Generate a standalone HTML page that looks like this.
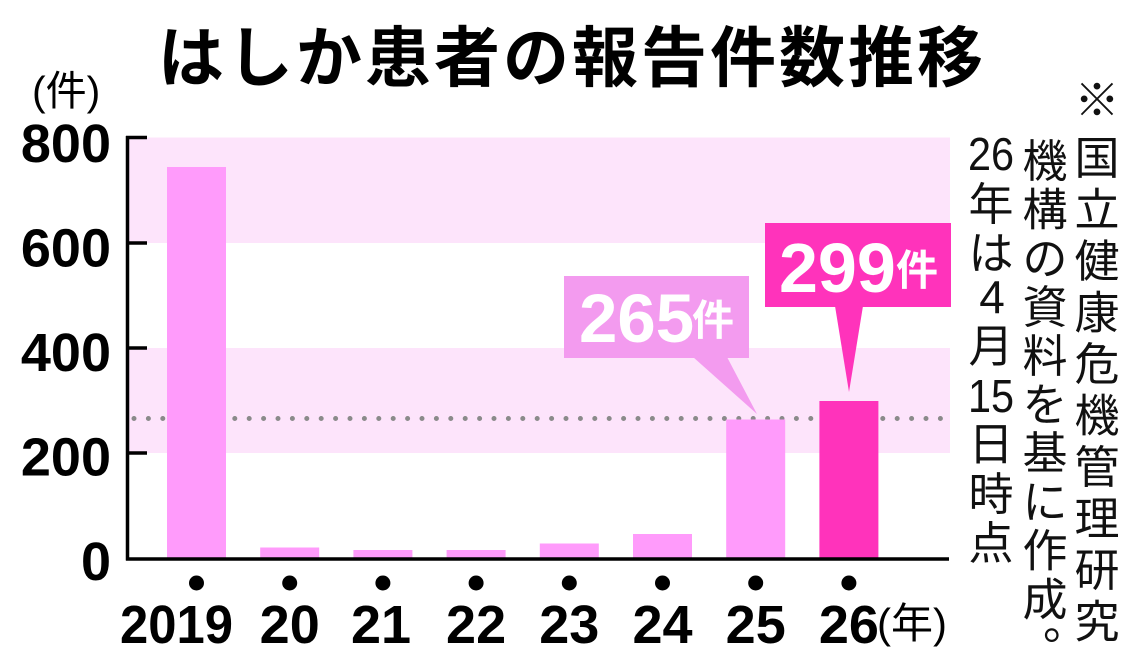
<!DOCTYPE html>
<html lang="ja">
<head>
<meta charset="utf-8">
<style>
  html, body { margin: 0; padding: 0; background: #ffffff; }
  body { width: 1140px; height: 665px; overflow: hidden; }
  svg { display: block; }
  .num { font-family: "Liberation Sans", "Noto Sans CJK JP", sans-serif; font-weight: bold; }
  .jp { font-family: "Liberation Sans", "Noto Sans CJK JP", sans-serif; }
  .jpb { font-family: "Noto Sans CJK JP", "Liberation Sans", sans-serif; font-weight: bold; }
  .note { font-family: "Noto Sans CJK JP", "Liberation Sans", sans-serif; font-weight: normal; fill: #111; }
  .noted { font-family: "Liberation Sans", "Noto Sans CJK JP", sans-serif; font-weight: normal; fill: #111; }
</style>
</head>
<body>
<svg width="1140" height="665" viewBox="0 0 1140 665" xmlns="http://www.w3.org/2000/svg">
  <!-- Title -->
  <text x="158" y="81" class="jpb" font-size="66" fill="#000" style="letter-spacing:3px">はしか患者の報告件数推移</text>

  <!-- unit label -->
  <text x="32" y="105" class="jp" font-size="41" fill="#000">(件)</text>

  <!-- background bands -->
  <rect x="129" y="137.5" width="821" height="105.5" fill="#fde4fb"/>
  <rect x="129" y="348" width="821" height="105" fill="#fde4fb"/>

  <!-- dotted reference line at 265 -->
  <line x1="134" y1="418.5" x2="948" y2="418.5" stroke="#8a8a8a" stroke-width="5" stroke-linecap="round" stroke-dasharray="0 14.4"/>

  <!-- bars -->
  <rect x="167" y="167" width="59" height="391.5" fill="#ff9bfb"/>
  <rect x="260.2" y="547.5" width="59" height="11" fill="#ff9bfb"/>
  <rect x="353.4" y="550" width="59" height="8.5" fill="#ff9bfb"/>
  <rect x="446.6" y="550" width="59" height="8.5" fill="#ff9bfb"/>
  <rect x="539.8" y="543.5" width="59" height="15" fill="#ff9bfb"/>
  <rect x="633" y="534" width="59" height="24.5" fill="#ff9bfb"/>
  <rect x="726.2" y="419.5" width="59" height="139" fill="#ff9bfb"/>
  <rect x="819.4" y="401" width="59" height="157.5" fill="#ff33bb"/>

  <!-- axes -->
  <line x1="127.5" y1="136" x2="127.5" y2="560.5" stroke="#000" stroke-width="3.5"/>
  <line x1="126" y1="559" x2="949" y2="559" stroke="#000" stroke-width="3.5"/>
  <line x1="126" y1="137.5" x2="147" y2="137.5" stroke="#000" stroke-width="3.5"/>
  <line x1="126" y1="243" x2="147" y2="243" stroke="#000" stroke-width="3.5"/>
  <line x1="126" y1="348" x2="147" y2="348" stroke="#000" stroke-width="3.5"/>
  <line x1="126" y1="453" x2="147" y2="453" stroke="#000" stroke-width="3.5"/>

  <!-- y labels -->
  <g class="num" font-size="54" fill="#000" text-anchor="end">
    <text x="111" y="162">800</text>
    <text x="111" y="266.5">600</text>
    <text x="111" y="371">400</text>
    <text x="111" y="475.5">200</text>
    <text x="111" y="580">0</text>
  </g>

  <!-- year markers -->
  <g fill="#000">
    <circle cx="196.5" cy="583" r="7.5"/>
    <circle cx="289.7" cy="583" r="7.5"/>
    <circle cx="382.9" cy="583" r="7.5"/>
    <circle cx="476.1" cy="583" r="7.5"/>
    <circle cx="569.3" cy="583" r="7.5"/>
    <circle cx="662.5" cy="583" r="7.5"/>
    <circle cx="755.7" cy="583" r="7.5"/>
    <circle cx="848.9" cy="583" r="7.5"/>
  </g>

  <!-- x labels -->
  <g class="num" font-size="54" fill="#000">
    <text x="120" y="643" textLength="113" lengthAdjust="spacingAndGlyphs">2019</text>
    <text x="289.7" y="643" text-anchor="middle">20</text>
    <text x="381" y="643" text-anchor="middle">21</text>
    <text x="476.1" y="643" text-anchor="middle">22</text>
    <text x="569.3" y="643" text-anchor="middle">23</text>
    <text x="662.5" y="643" text-anchor="middle">24</text>
    <text x="755.7" y="643" text-anchor="middle">25</text>
    <text x="848.9" y="643" text-anchor="middle">26</text>
  </g>
  <text x="877" y="638" class="jp" font-size="42" fill="#000">(年)</text>

  <!-- callout 265 -->
  <rect x="564" y="276" width="185" height="82" fill="#f39bef"/>
  <polygon points="693,357 727,357 757,414" fill="#f39bef"/>
  <text x="579" y="342" class="num" font-size="69" fill="#fff">265</text>
  <text x="692" y="335" class="jpb" font-size="42" fill="#fff">件</text>

  <!-- callout 299 -->
  <rect x="765" y="223" width="186" height="84" fill="#ff33bb"/>
  <polygon points="835,306 863,306 849,392" fill="#ff33bb"/>
  <text x="779" y="292" class="num" font-size="70" fill="#fff">299</text>
  <text x="896" y="285" class="jpb" font-size="42" fill="#fff">件</text>

  <!-- vertical note: column 1 -->
  <g class="note" font-size="45" text-anchor="middle">
    <text x="1097" y="116">※</text>
    <text x="1097" y="174">国</text>
    <text x="1097" y="225.5">立</text>
    <text x="1097" y="277">健</text>
    <text x="1097" y="328.5">康</text>
    <text x="1097" y="380">危</text>
    <text x="1097" y="431.5">機</text>
    <text x="1097" y="483">管</text>
    <text x="1097" y="534.5">理</text>
    <text x="1097" y="586">研</text>
    <text x="1097" y="637.5">究</text>
  </g>
  <!-- column 2 -->
  <g class="note" font-size="45" text-anchor="middle">
    <text x="1045" y="177">機</text>
    <text x="1045" y="225.7">構</text>
    <text x="1045" y="274.4">の</text>
    <text x="1045" y="323.1">資</text>
    <text x="1045" y="371.8">料</text>
    <text x="1045" y="420.5">を</text>
    <text x="1045" y="469.2">基</text>
    <text x="1045" y="517.9">に</text>
    <text x="1045" y="566.6">作</text>
    <text x="1045" y="615.3">成</text>
  </g>
  <text x="1043" y="639" class="note" font-size="45">。</text>
  <!-- column 3 -->
  <g class="noted" font-size="46" text-anchor="middle">
    <text x="991" y="170" transform="translate(991 0) scale(0.9 1) translate(-991 0)">26</text>
    <text x="992" y="313">4</text>
    <text x="991" y="412" transform="translate(991 0) scale(0.9 1) translate(-991 0)">15</text>
  </g>
  <g class="note" font-size="45" text-anchor="middle">
    <text x="991" y="220">年</text>
    <text x="991" y="269">は</text>
    <text x="991" y="362">月</text>
    <text x="991" y="460">日</text>
    <text x="991" y="510">時</text>
    <text x="991" y="559">点</text>
  </g>
</svg>
</body>
</html>
